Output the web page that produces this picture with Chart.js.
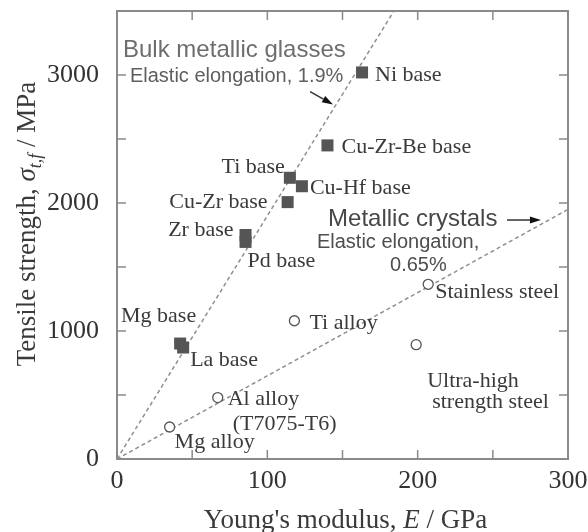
<!DOCTYPE html>
<html>
<head>
<meta charset="utf-8">
<script src="https://cdn.jsdelivr.net/npm/chart.js@4.4.1/dist/chart.umd.min.js"></script>
<style>
  html, body { margin: 0; padding: 0; background: #fff; }
  #wrap { width: 588px; height: 532px; }
</style>
</head>
<body>
<div id="wrap"><canvas id="c" width="588" height="532"></canvas></div>
<script>
// Bulk metallic glasses (filled squares): Young's modulus E [GPa], tensile strength [MPa]
const glassNames    = ['Ni base', 'Cu-Zr-Be base', 'Ti base', 'Cu-Hf base', 'Cu-Zr base', 'Zr base', 'Pd base', 'Mg base', 'La base'];
const glassModulus  = [163, 140, 115, 123, 113.5, 85.5, 85.5, 42, 44];
const glassStrength = [3020, 2450, 2197, 2131, 2007, 1750, 1696, 902, 871];

// Conventional crystalline alloys (open circles)
const crystalNames    = ['Mg alloy', 'Al alloy\n(T7075-T6)', 'Ti alloy', 'Stainless steel', 'Ultra-high\nstrength steel'];
const crystalModulus  = [35, 67, 118, 207, 199];
const crystalStrength = [250, 480, 1080, 1365, 893];

// Elastic elongation limits (%) drawn as lines sigma = strain * E
const elongationPct = [1.9, 0.65];
const lineModulus   = [0, 300];

// Axis ticks (the top value of y only bounds the frame, it carries no label)
const xTicks = [0, 100, 200, 300];
const yTicks = [0, 1000, 2000, 3000];
const yMax = 3500;

const toPoints = (xs, ys) => xs.map((x, i) => ({ x: x, y: ys[i] }));
const strainLine = pct => lineModulus.map(E => ({ x: E, y: E * pct * 10 }));

// ---- layout / styling ----
const SERIF = '"Liberation Serif", "Times New Roman", serif';
const SANS  = '"Liberation Sans", Arial, sans-serif';
const FRAME = '#8a8a8a';
const INK   = '#3a3a3a';

// label offsets (px) from each marker: one entry per text line
const glassLabelLayout = [
  [{ dx: 13, dy: 9, align: 'left' }],
  [{ dx: 14, dy: 8, align: 'left' }],
  [{ dx: -5, dy: -4.5, align: 'right' }],
  [{ dx: 8, dy: 8, align: 'left' }],
  [{ dx: -20, dy: 6, align: 'right' }],
  [{ dx: -12, dy: 1, align: 'right' }],
  [{ dx: 2, dy: 25, align: 'left' }],
  [{ dx: 16, dy: -22, align: 'right' }],
  [{ dx: 7, dy: 18, align: 'left' }]
];
const crystalLabelLayout = [
  [{ dx: 5, dy: 21, align: 'left' }],
  [{ dx: 10, dy: 7, align: 'left' }, { dx: 15, dy: 32, align: 'left' }],
  [{ dx: 15, dy: 8, align: 'left' }],
  [{ dx: 7, dy: 14, align: 'left' }],
  [{ dx: 11, dy: 42, align: 'left' }, { dx: 16, dy: 63, align: 'left' }]
];

// free notes placed in data coordinates
const notes = [
  { text: 'Bulk metallic glasses',    x: 4,     y: 3142, size: 24, color: '#6e6e6e' },
  { text: 'Elastic elongation, 1.9%', x: 8.6,   y: 2948, size: 20, color: '#5e5e5e' },
  { text: 'Metallic crystals',        x: 140.4, y: 1820, size: 24, color: '#474747' },
  { text: 'Elastic elongation,',      x: 133,   y: 1649, size: 20, color: '#4e4e4e' },
  { text: '0.65%',                    x: 181.6, y: 1470, size: 20, color: '#4e4e4e' }
];
const arrows = [
  { from: [128.4, 2870], to: [143.7, 2769] },
  { from: [259.4, 1867], to: [282, 1867] }
];

function arrow(ctx, x1, y1, x2, y2) {
  const a = Math.atan2(y2 - y1, x2 - x1);
  const L = 11, W = 3.6;
  ctx.save();
  ctx.strokeStyle = '#333';
  ctx.fillStyle = '#111';
  ctx.lineWidth = 1.5;
  ctx.beginPath();
  ctx.moveTo(x1, y1);
  ctx.lineTo(x2 - L * Math.cos(a), y2 - L * Math.sin(a));
  ctx.stroke();
  ctx.beginPath();
  ctx.moveTo(x2, y2);
  ctx.lineTo(x2 - L * Math.cos(a) + W * Math.sin(a), y2 - L * Math.sin(a) - W * Math.cos(a));
  ctx.lineTo(x2 - L * Math.cos(a) - W * Math.sin(a), y2 - L * Math.sin(a) + W * Math.cos(a));
  ctx.closePath();
  ctx.fill();
  ctx.restore();
}

// draw a run of styled pieces centred on (0,0) baseline
function drawRuns(ctx, runs) {
  let total = 0;
  runs.forEach(r => { ctx.font = r.font; total += ctx.measureText(r.text).width; });
  let x = -total / 2;
  runs.forEach(r => {
    ctx.font = r.font;
    ctx.fillText(r.text, x, r.dy || 0);
    x += ctx.measureText(r.text).width;
  });
}

const framePlugin = {
  id: 'frameTicks',
  beforeDatasetsDraw(chart) {
    const { ctx, chartArea: a, scales: { x, y } } = chart;
    ctx.save();
    ctx.strokeStyle = FRAME;
    ctx.lineWidth = 2;
    ctx.strokeRect(a.left, a.top, a.right - a.left, a.bottom - a.top);
    ctx.lineWidth = 1.5;
    const T = 9;
    ctx.beginPath();
    for (let v = 50; v < 300; v += 50) {
      const px = x.getPixelForValue(v);
      ctx.moveTo(px, a.bottom); ctx.lineTo(px, a.bottom - T);
      ctx.moveTo(px, a.top);    ctx.lineTo(px, a.top + T);
    }
    for (let v = 500; v < yMax; v += 500) {
      const py = y.getPixelForValue(v);
      ctx.moveTo(a.left, py);  ctx.lineTo(a.left + T, py);
      ctx.moveTo(a.right, py); ctx.lineTo(a.right - T, py);
    }
    ctx.stroke();
    ctx.restore();
  },
  afterDatasetsDraw(chart) {
    const { ctx, scales: { x, y } } = chart;
    ctx.save();
    ctx.textBaseline = 'alphabetic';

    // marker labels
    const labelSet = (names, xs, ys, layout) => {
      names.forEach((name, i) => {
        const px = x.getPixelForValue(xs[i]);
        const py = y.getPixelForValue(ys[i]);
        name.split('\n').forEach((line, j) => {
          const L = layout[i][j];
          ctx.font = '22px ' + SERIF;
          ctx.fillStyle = INK;
          ctx.textAlign = L.align;
          ctx.fillText(line, px + L.dx, py + L.dy);
        });
      });
    };
    labelSet(glassNames, glassModulus, glassStrength, glassLabelLayout);
    labelSet(crystalNames, crystalModulus, crystalStrength, crystalLabelLayout);

    // notes
    notes.forEach(n => {
      ctx.font = n.size + 'px ' + SANS;
      ctx.fillStyle = n.color;
      ctx.textAlign = 'left';
      ctx.fillText(n.text, x.getPixelForValue(n.x), y.getPixelForValue(n.y));
    });

    arrows.forEach(ar => arrow(ctx,
      x.getPixelForValue(ar.from[0]), y.getPixelForValue(ar.from[1]),
      x.getPixelForValue(ar.to[0]), y.getPixelForValue(ar.to[1])));

    // axis titles
    ctx.fillStyle = INK;
    ctx.textAlign = 'left';
    ctx.save();
    ctx.translate((chart.chartArea.left + chart.chartArea.right) / 2 + 3, 528);
    drawRuns(ctx, [
      { text: "Young's modulus, ", font: '27px ' + SERIF },
      { text: 'E', font: 'italic 27px ' + SERIF },
      { text: ' / GPa', font: '27px ' + SERIF }
    ]);
    ctx.restore();

    ctx.save();
    ctx.translate(35, 224);
    ctx.rotate(-Math.PI / 2);
    drawRuns(ctx, [
      { text: 'Tensile strength, ', font: '27px ' + SERIF },
      { text: 'σ', font: 'italic 27px ' + SERIF },
      { text: 't,f', font: 'italic 18px ' + SERIF, dy: 6 },
      { text: ' / MPa', font: '27px ' + SERIF }
    ]);
    ctx.restore();

    ctx.restore();
  }
};

const tickFont = { family: SERIF, size: 26 };

new Chart(document.getElementById('c'), {
  type: 'scatter',
  data: {
    datasets: [
      {
        label: 'Bulk metallic glasses',
        data: toPoints(glassModulus, glassStrength),
        pointStyle: 'rect',
        pointRadius: 8.5,
        pointHoverRadius: 8.5,
        backgroundColor: '#555',
        borderColor: '#555',
        borderWidth: 0,
        order: 0
      },
      {
        label: 'Metallic crystals',
        data: toPoints(crystalModulus, crystalStrength),
        pointStyle: 'circle',
        pointRadius: 5,
        pointHoverRadius: 5,
        backgroundColor: '#fff',
        borderColor: '#555',
        borderWidth: 1.3,
        order: 1
      },
      {
        label: 'Elastic elongation 1.9%',
        data: strainLine(elongationPct[0]),
        showLine: true,
        pointRadius: 0,
        borderColor: '#8f8f8f',
        borderWidth: 1.5,
        borderDash: [4, 3],
        order: 2
      },
      {
        label: 'Elastic elongation 0.65%',
        data: strainLine(elongationPct[1]),
        showLine: true,
        pointRadius: 0,
        borderColor: '#8f8f8f',
        borderWidth: 1.5,
        borderDash: [4, 3],
        order: 3
      }
    ]
  },
  options: {
    responsive: false,
    animation: false,
    devicePixelRatio: 1,
    layout: { padding: { left: 0, right: 20, top: 11, bottom: 0 } },
    plugins: { legend: { display: false }, tooltip: { enabled: false } },
    scales: {
      x: {
        type: 'linear',
        min: 0, max: 300,
        afterBuildTicks: s => { s.ticks = xTicks.map(v => ({ value: v })); },
        ticks: { font: tickFont, color: '#333', padding: 7, maxRotation: 0, callback: v => String(v) },
        grid: { display: false, drawTicks: false },
        border: { display: false },
        afterFit: s => { s.height = 73; s.paddingLeft = 0; s.paddingRight = 0; }
      },
      y: {
        type: 'linear',
        min: 0, max: yMax,
        afterBuildTicks: s => { s.ticks = yTicks.concat([yMax]).map(v => ({ value: v })); },
        ticks: { font: tickFont, color: '#333', padding: 18, callback: v => (yTicks.includes(v) ? String(v) : null) },
        grid: { display: false, drawTicks: false },
        border: { display: false },
        afterFit: s => { s.width = 117; s.paddingTop = 0; s.paddingBottom = 0; }
      }
    }
  },
  plugins: [framePlugin]
});
</script>
</body>
</html>
